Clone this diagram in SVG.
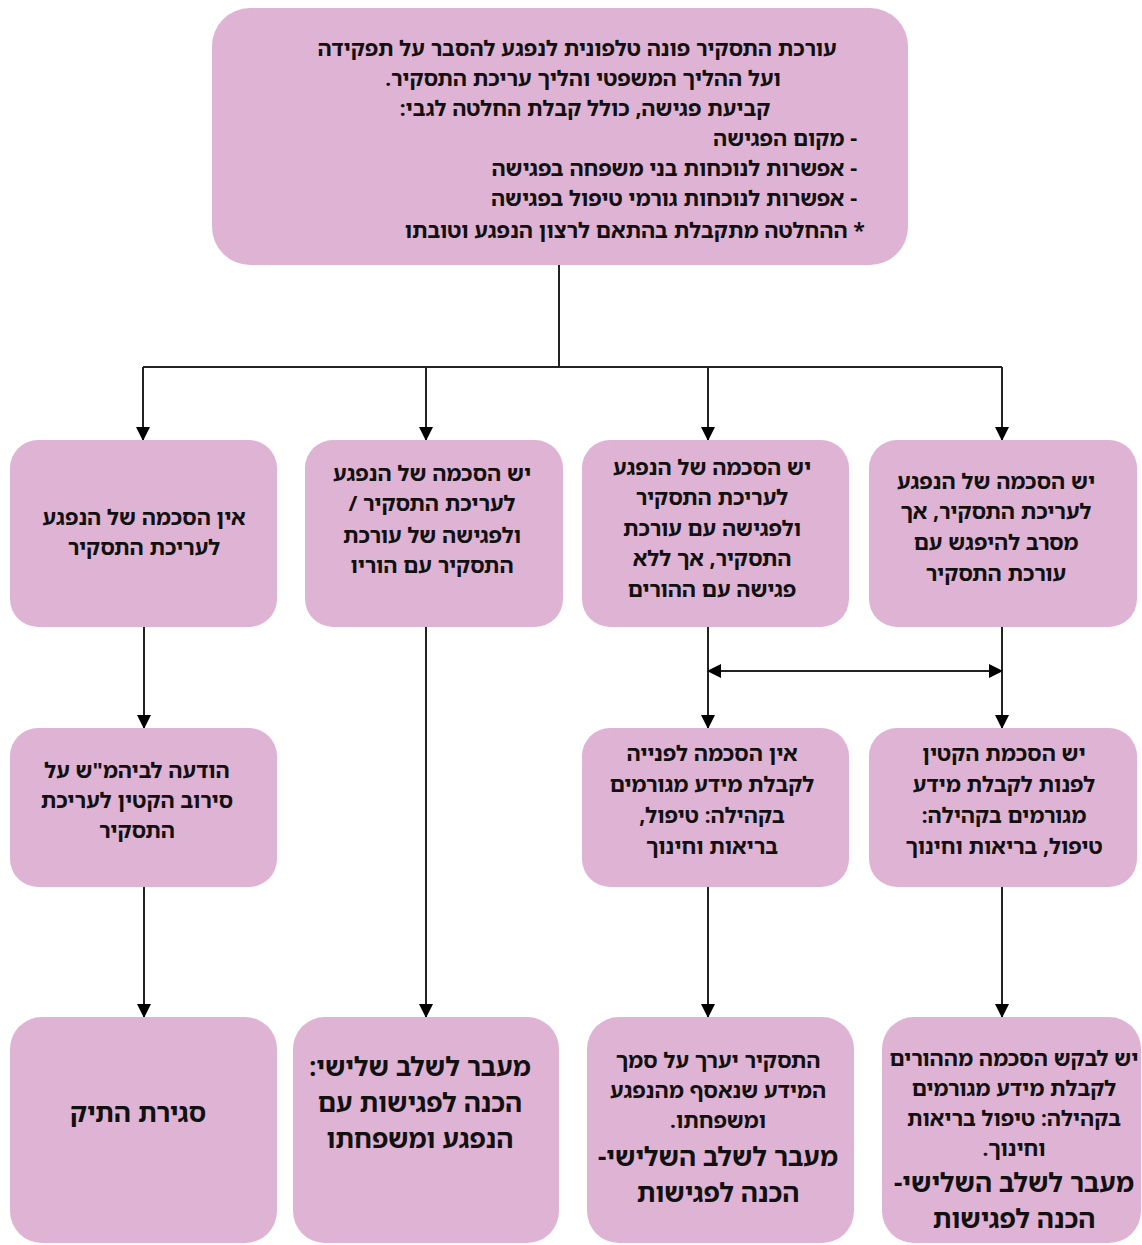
<svg xmlns="http://www.w3.org/2000/svg" width="1142" height="1245" viewBox="0 0 1142 1245">
<style>
.box{fill:#dfb3d3;stroke:none}
.t{font-family:"Noto Sans Hebrew","Noto Sans","Liberation Sans",sans-serif;font-weight:bold;font-size:21.5px;fill:#111;direction:rtl;text-anchor:middle}
.r{text-anchor:start}
.big{font-size:26px}
.c{fill:none;stroke:#222;stroke-width:2}
</style>
<defs>
<marker id="ah" markerUnits="userSpaceOnUse" markerWidth="14" markerHeight="14" refX="13" refY="7" orient="auto">
<path d="M0,0 L14,7 L0,14 Z" fill="#000"/>
</marker>
<marker id="ahs" markerUnits="userSpaceOnUse" markerWidth="14" markerHeight="14" refX="1" refY="7" orient="auto">
<path d="M14,0 L0,7 L14,14 Z" fill="#000"/>
</marker>
</defs>
<rect width="1142" height="1245" fill="#fff"/>
<g id="connectors">
<path class="c" d="M559,265 V367"/>
<path class="c" d="M143,367 H1002"/>
<path class="c" d="M143,367 V440" marker-end="url(#ah)"/>
<path class="c" d="M426,367 V440" marker-end="url(#ah)"/>
<path class="c" d="M708,367 V440" marker-end="url(#ah)"/>
<path class="c" d="M1002,367 V440" marker-end="url(#ah)"/>
<path class="c" d="M144,627 V728" marker-end="url(#ah)"/>
<path class="c" d="M426,627 V1017" marker-end="url(#ah)"/>
<path class="c" d="M708,627 V728" marker-end="url(#ah)"/>
<path class="c" d="M1002,627 V728" marker-end="url(#ah)"/>
<path class="c" d="M708,671 H1002" marker-start="url(#ahs)" marker-end="url(#ah)"/>
<path class="c" d="M144,887 V1017" marker-end="url(#ah)"/>
<path class="c" d="M708,887 V1017" marker-end="url(#ah)"/>
<path class="c" d="M1002,887 V1017" marker-end="url(#ah)"/>
</g>
<g id="n-top">
<rect class="box" x="212" y="8" width="696" height="257" rx="38"/>
<text class="t" x="577" y="56">עורכת התסקיר פונה טלפונית לנפגע להסבר על תפקידה</text>
<text class="t" x="583" y="86">ועל ההליך המשפטי והליך עריכת התסקיר.</text>
<text class="t" x="585" y="116">קביעת פגישה, כולל קבלת החלטה לגבי:</text>
<text class="t r" x="857" y="146">- מקום הפגישה</text>
<text class="t r" x="857" y="176">- אפשרות לנוכחות בני משפחה בפגישה</text>
<text class="t r" x="857" y="206">- אפשרות לנוכחות גורמי טיפול בפגישה</text>
<text class="t r" x="865" y="238">* ההחלטה מתקבלת בהתאם לרצון הנפגע וטובתו</text>
</g>
<g id="n-a">
<rect class="box" x="10" y="440" width="267" height="187" rx="28"/>
<text class="t" x="144" y="525">אין הסכמה של הנפגע</text>
<text class="t" x="144" y="555">לעריכת התסקיר</text>
</g>
<g id="n-b">
<rect class="box" x="305" y="440" width="258" height="187" rx="28"/>
<text class="t" x="432" y="481">יש הסכמה של הנפגע</text>
<text class="t" x="432" y="511">לעריכת התסקיר /</text>
<text class="t" x="432" y="543">ולפגישה של עורכת</text>
<text class="t" x="432" y="573">התסקיר עם הוריו</text>
</g>
<g id="n-c">
<rect class="box" x="582" y="440" width="267" height="187" rx="28"/>
<text class="t" x="712" y="475">יש הסכמה של הנפגע</text>
<text class="t" x="712" y="505">לעריכת התסקיר</text>
<text class="t" x="712" y="536">ולפגישה עם עורכת</text>
<text class="t" x="712" y="566">התסקיר, אך ללא</text>
<text class="t" x="712" y="597">פגישה עם ההורים</text>
</g>
<g id="n-d">
<rect class="box" x="869" y="440" width="268" height="187" rx="28"/>
<text class="t" x="996" y="489">יש הסכמה של הנפגע</text>
<text class="t" x="996" y="519">לעריכת התסקיר, אך</text>
<text class="t" x="996" y="550">מסרב להיפגש עם</text>
<text class="t" x="996" y="581">עורכת התסקיר</text>
</g>
<g id="n-e">
<rect class="box" x="10" y="728" width="267" height="159" rx="28"/>
<text class="t" x="137" y="778">הודעה לביהמ"ש על</text>
<text class="t" x="137" y="808">סירוב הקטין לעריכת</text>
<text class="t" x="137" y="838">התסקיר</text>
</g>
<g id="n-f">
<rect class="box" x="582" y="728" width="267" height="159" rx="28"/>
<text class="t" x="712" y="761">אין הסכמה לפנייה</text>
<text class="t" x="712" y="792">לקבלת מידע מגורמים</text>
<text class="t" x="712" y="823">בקהילה: טיפול,</text>
<text class="t" x="712" y="854">בריאות וחינוך</text>
</g>
<g id="n-g">
<rect class="box" x="869" y="728" width="268" height="159" rx="28"/>
<text class="t" x="1004" y="761">יש הסכמת הקטין</text>
<text class="t" x="1004" y="792">לפנות לקבלת מידע</text>
<text class="t" x="1004" y="823">מגורמים בקהילה:</text>
<text class="t" x="1004" y="854">טיפול, בריאות וחינוך</text>
</g>
<g id="n-h">
<rect class="box" x="10" y="1017" width="267" height="226" rx="32"/>
<text class="t big" x="138" y="1122">סגירת התיק</text>
</g>
<g id="n-i">
<rect class="box" x="293" y="1017" width="266" height="226" rx="32"/>
<text class="t big" x="420" y="1076">מעבר לשלב שלישי:</text>
<text class="t big" x="420" y="1112">הכנה לפגישות עם</text>
<text class="t big" x="420" y="1148">הנפגע ומשפחתו</text>
</g>
<g id="n-j">
<rect class="box" x="587" y="1017" width="267" height="226" rx="32"/>
<text class="t" x="718" y="1068">התסקיר יערך על סמך</text>
<text class="t" x="718" y="1098">המידע שנאסף מהנפגע</text>
<text class="t" x="718" y="1128">ומשפחתו.</text>
<text class="t big" x="718" y="1166">מעבר לשלב השלישי-</text>
<text class="t big" x="718" y="1202">הכנה לפגישות</text>
</g>
<g id="n-k">
<rect class="box" x="882" y="1017" width="259" height="226" rx="32"/>
<text class="t" x="1014" y="1066">יש לבקש הסכמה מההורים</text>
<text class="t" x="1014" y="1096">לקבלת מידע מגורמים</text>
<text class="t" x="1014" y="1126">בקהילה: טיפול בריאות</text>
<text class="t" x="1014" y="1156">וחינוך.</text>
<text class="t big" x="1014" y="1192">מעבר לשלב השלישי-</text>
<text class="t big" x="1014" y="1228">הכנה לפגישות</text>
</g>
</svg>
